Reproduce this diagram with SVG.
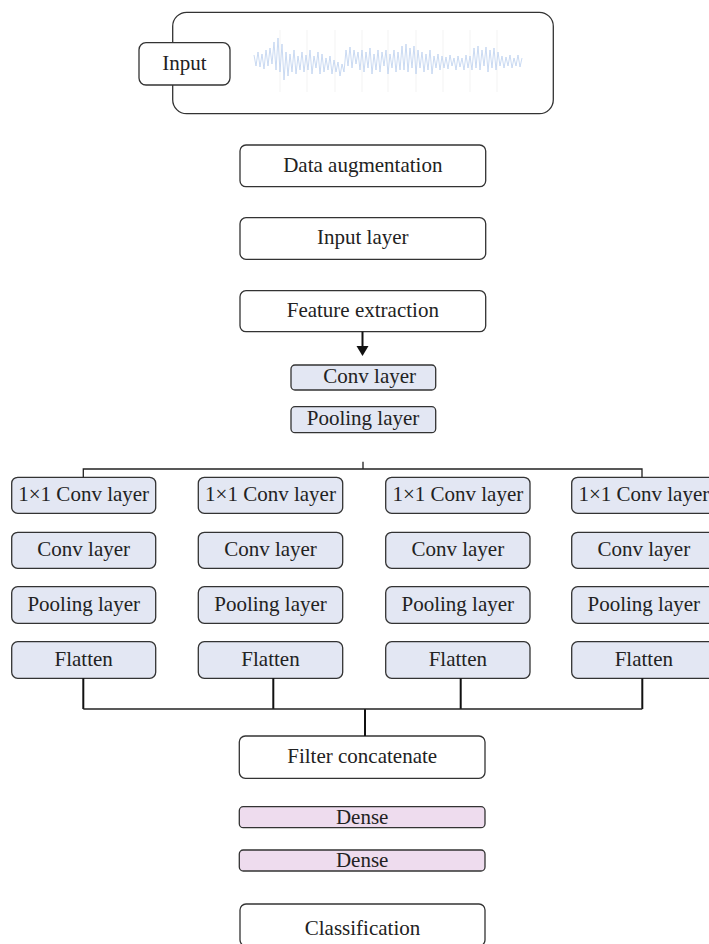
<svg xmlns="http://www.w3.org/2000/svg" width="709" height="944" viewBox="0 0 709 944" font-family="'Liberation Serif', 'DejaVu Serif', serif">
<style>
.box{fill:#ffffff;stroke:#333333;stroke-width:1.3}
.conv{fill:#e3e7f3;stroke:#333333;stroke-width:1.3}
.dense{fill:#eedcee;stroke:#333333;stroke-width:1.3}
text{font-family:'Liberation Serif','DejaVu Serif',serif;font-size:21px;fill:#222222;text-anchor:middle}
.ln{stroke:#222222;stroke-width:1.3;fill:none}
.lv{stroke:#111111;stroke-width:2;fill:none}
.grid{stroke:#f3f3f3;stroke-width:1}
</style>
<rect width="709" height="944" fill="#ffffff"/>
<g id="input-panel">
<rect x="172.7" y="12.3" width="380.6" height="101.4" rx="14" class="box"/>
<g id="waveform">
<path class="grid" d="M280,30V92M307,30V92M335,30V92M362,30V92M388,30V92M416,30V92M443,30V92M470,30V92M497,30V92"/>
<polyline fill="none" stroke="#bcd0ef" stroke-width="0.8" stroke-linejoin="round" points="254,55 256,66 258,52 260,67 262,54 264,69 266,50 268,66 270,48 272,64 274,42 276,70 278,38 280,72 282,44 284,80 286,52 288,76 290,54 292,72 294,50 296,74 298,56 300,70 302,52 304,72 306,55 308,70 310,50 312,74 314,56 316,68 318,52 320,74 322,54 324,72 326,58 328,70 330,56 332,74 334,60 336,72 338,62 340,76 342,64 344,72 346,50 348,66 350,47 352,68 354,50 356,64 358,52 360,70 362,50 364,72 366,52 368,68 370,48 372,74 374,54 376,70 378,50 380,72 382,52 384,66 386,50 388,74 390,54 392,68 394,50 396,72 398,52 400,70 402,46 404,70 406,44 408,72 410,48 412,68 414,46 416,74 418,50 420,68 422,52 424,72 426,54 428,70 430,50 432,74 434,56 436,68 438,54 440,70 442,56 444,68 446,57 448,69 450,55 452,66 454,58 456,70 458,56 460,67 462,58 464,70 466,55 468,68 470,56 472,70 474,48 476,68 478,46 480,70 482,50 484,66 486,47 488,72 490,50 492,68 494,48 496,70 498,52 500,66 502,56 504,68 506,57 508,66 510,55 512,68 514,58 516,66 518,55 520,67 522,58"/>
</g>
</g>
<g id="input">
<rect x="139" y="42.7" width="91" height="42.3" rx="7" class="box"/>
<text x="184.5" y="70">Input</text>
</g>
<g id="data-augmentation">
<rect x="240" y="145" width="245.7" height="41.7" rx="6" class="box"/>
<text x="362.8" y="171.8">Data augmentation</text>
</g>
<g id="input-layer">
<rect x="240" y="217.7" width="245.7" height="41.6" rx="6" class="box"/>
<text x="362.8" y="244.3">Input layer</text>
</g>
<g id="feature-extraction">
<rect x="240" y="290.7" width="245.7" height="41" rx="6" class="box"/>
<text x="362.8" y="317">Feature extraction</text>
</g>
<g id="conv-layer">
<rect x="291" y="365" width="144.7" height="25" rx="4" class="conv"/>
<text x="369.7" y="383.3">Conv layer</text>
</g>
<g id="pooling-layer">
<rect x="291" y="406.7" width="144.7" height="26" rx="4" class="conv"/>
<text x="363" y="425.3">Pooling layer</text>
</g>
<g id="col1">
<g id="c1-1x1"><rect x="11.7" y="477.3" width="144" height="36" rx="6" class="conv"/><text x="83.7" y="500.7">1×1 Conv layer</text></g>
<g id="c1-conv"><rect x="11.7" y="532.3" width="144" height="36" rx="6" class="conv"/><text x="83.7" y="555.7">Conv layer</text></g>
<g id="c1-pool"><rect x="11.7" y="586.7" width="144" height="36.6" rx="6" class="conv"/><text x="83.7" y="610.5">Pooling layer</text></g>
<g id="c1-flat"><rect x="11.7" y="641.7" width="144" height="36.6" rx="6" class="conv"/><text x="83.7" y="665.5">Flatten</text></g>
</g>
<g id="col2">
<g id="c2-1x1"><rect x="198.3" y="477.3" width="144.4" height="36" rx="6" class="conv"/><text x="270.5" y="500.7">1×1 Conv layer</text></g>
<g id="c2-conv"><rect x="198.3" y="532.3" width="144.4" height="36" rx="6" class="conv"/><text x="270.5" y="555.7">Conv layer</text></g>
<g id="c2-pool"><rect x="198.3" y="586.7" width="144.4" height="36.6" rx="6" class="conv"/><text x="270.5" y="610.5">Pooling layer</text></g>
<g id="c2-flat"><rect x="198.3" y="641.7" width="144.4" height="36.6" rx="6" class="conv"/><text x="270.5" y="665.5">Flatten</text></g>
</g>
<g id="col3">
<g id="c3-1x1"><rect x="385.7" y="477.3" width="144.3" height="36" rx="6" class="conv"/><text x="457.8" y="500.7">1×1 Conv layer</text></g>
<g id="c3-conv"><rect x="385.7" y="532.3" width="144.3" height="36" rx="6" class="conv"/><text x="457.8" y="555.7">Conv layer</text></g>
<g id="c3-pool"><rect x="385.7" y="586.7" width="144.3" height="36.6" rx="6" class="conv"/><text x="457.8" y="610.5">Pooling layer</text></g>
<g id="c3-flat"><rect x="385.7" y="641.7" width="144.3" height="36.6" rx="6" class="conv"/><text x="457.8" y="665.5">Flatten</text></g>
</g>
<g id="col4">
<g id="c4-1x1"><rect x="571.7" y="477.3" width="144.3" height="36" rx="6" class="conv"/><text x="643.8" y="500.7">1×1 Conv layer</text></g>
<g id="c4-conv"><rect x="571.7" y="532.3" width="144.3" height="36" rx="6" class="conv"/><text x="643.8" y="555.7">Conv layer</text></g>
<g id="c4-pool"><rect x="571.7" y="586.7" width="144.3" height="36.6" rx="6" class="conv"/><text x="643.8" y="610.5">Pooling layer</text></g>
<g id="c4-flat"><rect x="571.7" y="641.7" width="144.3" height="36.6" rx="6" class="conv"/><text x="643.8" y="665.5">Flatten</text></g>
</g>
<g id="filter-concatenate">
<rect x="239.3" y="736" width="245.7" height="42.3" rx="6" class="box"/>
<text x="362.2" y="762.5">Filter concatenate</text>
</g>
<g id="dense1">
<rect x="239.3" y="806.7" width="245.7" height="21" rx="4" class="dense"/>
<text x="362.2" y="824">Dense</text>
</g>
<g id="dense2">
<rect x="239.3" y="850" width="245.7" height="21" rx="4" class="dense"/>
<text x="362.2" y="867.3">Dense</text>
</g>
<g id="classification">
<rect x="240" y="904" width="245" height="42" rx="6" class="box"/>
<text x="362.5" y="935">Classification</text>
</g>
<g id="connectors">
<line x1="362.5" y1="331.7" x2="362.5" y2="347" class="lv"/>
<polygon points="356.5,346 368.5,346 362.5,356" fill="#111111"/>
<path class="ln" d="M363,461.7V469M83.3,477.3V469H642V477.3"/>
<path class="lv" d="M83.3,678.3V709M273.3,678.3V709M460.7,678.3V709M642.3,678.3V709M365,709V736"/>
<path class="ln" d="M83.3,709H642.3"/>
</g>
</svg>
